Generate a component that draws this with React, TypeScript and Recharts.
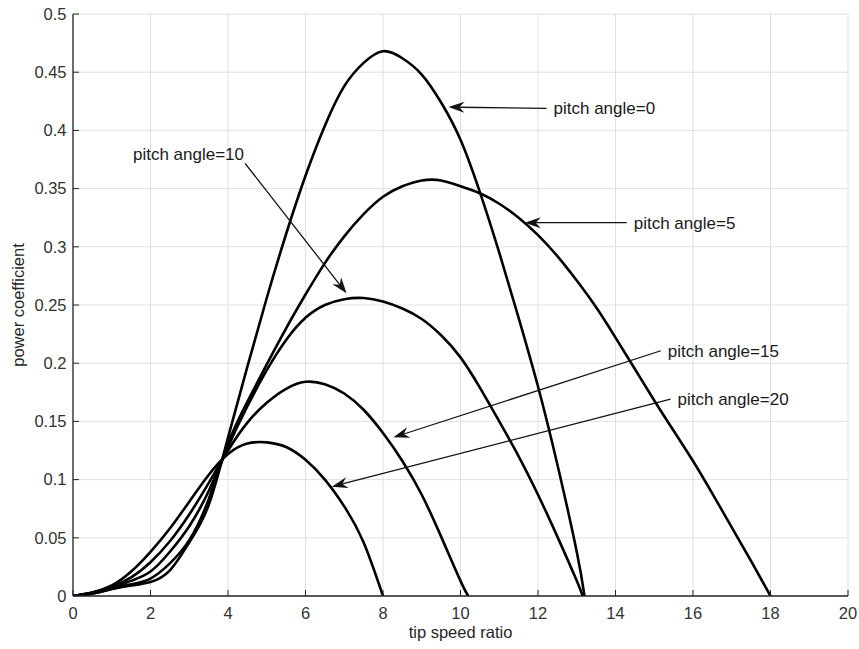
import React from "react";
import { LineChart, Line, XAxis, YAxis, CartesianGrid, ReferenceLine } from "recharts";

const xTicks = [0, 2, 4, 6, 8, 10, 12, 14, 16, 18, 20];
const yTicks = [0, 0.05, 0.1, 0.15, 0.2, 0.25, 0.3, 0.35, 0.4, 0.45, 0.5];

// tip speed ratio / power coefficient, one pair per pitch angle
const pitch0Tsr = [0, 0.5, 1, 1.5, 2, 2.5, 3, 3.5, 4, 4.5, 5, 5.5, 6, 6.5, 7, 7.5, 8, 8.5, 9, 9.5, 10, 10.5, 11, 11.5, 12, 12.5, 13, 13.2];
const pitch0Cp = [0, 0.002, 0.006, 0.009, 0.012, 0.022, 0.046, 0.078, 0.136, 0.197, 0.256, 0.311, 0.361, 0.404, 0.438, 0.458, 0.468, 0.462, 0.448, 0.424, 0.392, 0.347, 0.295, 0.239, 0.18, 0.113, 0.038, 0];

const pitch5Tsr = [0, 0.5, 1, 1.5, 2, 2.5, 3, 3.5, 4, 4.5, 5, 5.5, 6, 6.5, 7, 7.5, 8, 8.5, 9, 9.5, 10, 10.5, 11, 11.5, 12, 12.5, 13, 13.5, 14, 14.5, 15, 15.5, 16, 16.5, 17, 17.5, 18];
const pitch5Cp = [0, 0.002, 0.006, 0.01, 0.015, 0.028, 0.048, 0.083, 0.131, 0.167, 0.199, 0.23, 0.259, 0.286, 0.309, 0.328, 0.343, 0.352, 0.357, 0.357, 0.352, 0.346, 0.337, 0.325, 0.31, 0.292, 0.271, 0.248, 0.222, 0.195, 0.168, 0.142, 0.116, 0.088, 0.059, 0.03, 0];

const pitch10Tsr = [0, 0.5, 1, 1.5, 2, 2.5, 3, 3.5, 4, 4.5, 5, 5.5, 6, 6.5, 7, 7.5, 8, 8.5, 9, 9.5, 10, 10.5, 11, 11.5, 12, 12.5, 13, 13.15];
const pitch10Cp = [0, 0.0025, 0.007, 0.013, 0.021, 0.038, 0.06, 0.09, 0.128, 0.163, 0.194, 0.22, 0.239, 0.25, 0.255, 0.256, 0.253, 0.247, 0.238, 0.224, 0.205, 0.179, 0.15, 0.12, 0.087, 0.051, 0.013, 0];

const pitch15Tsr = [0, 0.5, 1, 1.5, 2, 2.5, 3, 3.5, 4, 4.5, 5, 5.5, 6, 6.5, 7, 7.5, 8, 8.5, 9, 9.5, 10, 10.2];
const pitch15Cp = [0, 0.003, 0.008, 0.016, 0.029, 0.047, 0.07, 0.097, 0.125, 0.149, 0.166, 0.178, 0.184, 0.182, 0.174, 0.16, 0.14, 0.116, 0.087, 0.051, 0.013, 0];

const pitch20Tsr = [0, 0.5, 1, 1.5, 2, 2.5, 3, 3.5, 4, 4.5, 5, 5.5, 6, 6.5, 7, 7.5, 8];
const pitch20Cp = [0, 0.003, 0.009, 0.021, 0.038, 0.058, 0.081, 0.104, 0.122, 0.131, 0.132, 0.128, 0.117, 0.1, 0.077, 0.046, 0];

const toPoints = (tsr: number[], cp: number[]) => tsr.map((t, i) => ({ tsr: t, cp: cp[i] }));

const curves = [
  { id: "p0", data: toPoints(pitch0Tsr, pitch0Cp) },
  { id: "p5", data: toPoints(pitch5Tsr, pitch5Cp) },
  { id: "p10", data: toPoints(pitch10Tsr, pitch10Cp) },
  { id: "p15", data: toPoints(pitch15Tsr, pitch15Cp) },
  { id: "p20", data: toPoints(pitch20Tsr, pitch20Cp) },
];

// arrow annotations: tip -> tail in data units, text sits at the tail
const annotations = [
  { text: "pitch angle=0", tip: [9.69, 0.42], tail: [12.22, 0.419], anchor: "start" },
  { text: "pitch angle=5", tip: [11.66, 0.3207], tail: [14.29, 0.3207], anchor: "start" },
  { text: "pitch angle=10", tip: [7.06, 0.26], tail: [4.44, 0.3717], anchor: "end" },
  { text: "pitch angle=15", tip: [8.27, 0.1363], tail: [15.17, 0.2107], anchor: "start" },
  { text: "pitch angle=20", tip: [6.68, 0.0939], tail: [15.42, 0.1692], anchor: "start" },
];

const FONT = "'Liberation Sans', Arial, Helvetica, sans-serif";
const AXIS = "#262626";

const arrowShape = (text: string, anchor: string) => (props: any) => {
  const { x1, y1, x2, y2 } = props;
  const dx = x1 - x2;
  const dy = y1 - y2;
  const len = Math.sqrt(dx * dx + dy * dy) || 1;
  const ux = dx / len;
  const uy = dy / len;
  const nx = -uy;
  const ny = ux;
  const L = 16;
  const W = 5.5;
  const notch = 0.68 * L;
  const pts = [
    [x1, y1],
    [x1 - L * ux + W * nx, y1 - L * uy + W * ny],
    [x1 - notch * ux, y1 - notch * uy],
    [x1 - L * ux - W * nx, y1 - L * uy - W * ny],
  ]
    .map((p) => p.join(","))
    .join(" ");
  const isStart = anchor === "start";
  return (
    <g>
      <line x1={x2} y1={y2} x2={x1 - notch * ux} y2={y1 - notch * uy} stroke="#111" strokeWidth={1.3} />
      <polygon points={pts} fill="#111" />
      <text
        x={isStart ? x2 + 7 : x2 - 1}
        y={isStart ? y2 + 6 : y2 - 3}
        textAnchor={isStart ? "start" : "end"}
        fontFamily={FONT}
        fontSize={17}
        fill="#1a1a1a"
      >
        {text}
      </text>
    </g>
  );
};

const YLabel = (p: any) => {
  const vb = p.viewBox;
  const cx = vb.x + 18;
  const cy = vb.y + vb.height / 2;
  return (
    <text
      x={cx}
      y={cy}
      transform={`rotate(-90 ${cx} ${cy})`}
      textAnchor="middle"
      dominantBaseline="central"
      fontFamily={FONT}
      fontSize={16.5}
      fill={AXIS}
    >
      power coefficient
    </text>
  );
};

export default function App() {
  return (
    <div style={{ position: "absolute", left: 0, top: 0, background: "#fff" }}>
      <LineChart width={859} height={649} margin={{ top: 14, right: 11, bottom: 0, left: 0 }}>
        <CartesianGrid stroke="#e0e0e0" strokeWidth={1} />
        <XAxis
          type="number"
          dataKey="tsr"
          domain={[0, 20]}
          ticks={xTicks}
          allowDataOverflow
          height={53}
          axisLine={{ stroke: AXIS, strokeWidth: 1.3 }}
          tickLine={{ stroke: AXIS }}
          tickSize={-6}
          tickMargin={17}
          tick={{ fill: "#333", fontSize: 16.5, fontFamily: FONT }}
          label={{ value: "tip speed ratio", position: "insideBottom", offset: 11, fill: AXIS, fontSize: 16.5, fontFamily: FONT }}
        />
        <XAxis
          xAxisId="top"
          orientation="top"
          type="number"
          domain={[0, 20]}
          ticks={xTicks}
          height={0}
          axisLine={{ stroke: AXIS, strokeWidth: 1.3 }}
          tickLine={{ stroke: AXIS }}
          tickSize={-6}
          tick={false}
        />
        <YAxis
          type="number"
          domain={[0, 0.5]}
          ticks={yTicks}
          allowDataOverflow
          width={73}
          axisLine={{ stroke: AXIS, strokeWidth: 1.3 }}
          tickLine={{ stroke: AXIS }}
          tickSize={-6}
          tickMargin={12.5}
          tick={{ fill: "#333", fontSize: 16.5, fontFamily: FONT }}
          label={{ content: YLabel }}
        />
        <YAxis
          yAxisId="right"
          orientation="right"
          type="number"
          domain={[0, 0.5]}
          ticks={yTicks}
          width={0}
          axisLine={{ stroke: AXIS, strokeWidth: 1.3 }}
          tickLine={{ stroke: AXIS }}
          tickSize={-6}
          tick={false}
        />
        {curves.map((c) => (
          <Line
            key={c.id}
            data={c.data}
            dataKey="cp"
            type="natural"
            stroke="#000"
            strokeWidth={2.6}
            dot={false}
            activeDot={false}
            isAnimationActive={false}
          />
        ))}
        {annotations.map((a) => (
          <ReferenceLine
            key={a.text}
            segment={[
              { x: a.tip[0], y: a.tip[1] },
              { x: a.tail[0], y: a.tail[1] },
            ]}
            shape={arrowShape(a.text, a.anchor)}
          />
        ))}
      </LineChart>
    </div>
  );
}
